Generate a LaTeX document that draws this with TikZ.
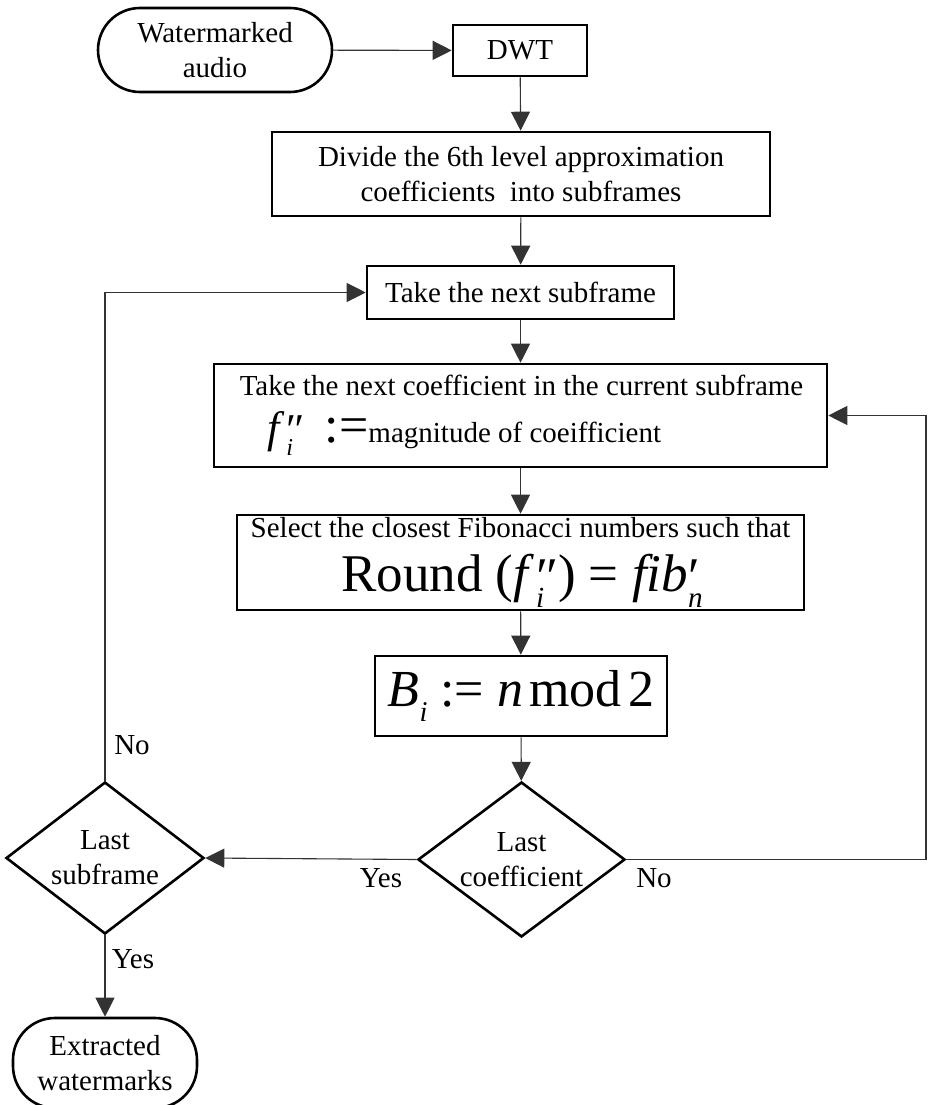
\documentclass[tikz,border=0pt]{standalone}
\usepackage{fontspec}
\setmainfont{Liberation Serif}
\usetikzlibrary{arrows.meta,shapes.geometric}
\newcommand\fsn{\fontsize{29}{35}\selectfont}
\newcommand\fsl{\fontsize{52}{56}\selectfont}
\newcommand\subsc[1]{\raisebox{-0.3em}{\scalebox{0.55}{\textit{#1}}}}
\newcommand\fii{\textit{f}\hspace{0.03em}\rlap{\subsc{i}}\raisebox{-0.05em}{″}}
\tikzset{
  box/.style={draw, line width=2.6pt, inner sep=0pt, font=\fsn, align=center},
  term/.style={box, rounded corners=42pt},
  dia/.style={diamond, draw, line width=2.6pt, inner sep=0pt},
  conn/.style={line width=1.1pt, draw=black!80, -{Triangle[length=19pt,width=19pt]}},
  lbl/.style={font=\fsn, inner sep=0pt, align=center},
}
\begin{document}
\begin{tikzpicture}[x=1pt,y=-1pt]
\useasboundingbox (0,0) rectangle (927,1105);
\node[term, minimum width=234pt, minimum height=84pt] (wa) at (215,50) {Watermarked\\audio};
\node[box, minimum width=134pt, minimum height=51pt] (dwt) at (520,50.5) {DWT};
\node[box, minimum width=498pt, minimum height=84pt] (div) at (521,174) {Divide the 6th level approximation\\coefficients\ \ into subframes};
\node[box, minimum width=307pt, minimum height=53pt] (sub) at (520.5,292.5) {Take the next subframe};
\node[box, minimum width=613pt, minimum height=103pt, align=left] (coef) at (520.5,415.5)
  {\hspace*{2pt}Take the next coefficient in the current subframe\\[12pt]
   \hspace*{30pt}{\fontsize{44}{44}\selectfont\fii}\hspace{20pt}{\fontsize{52}{52}\selectfont :=}magnitude of coeifficient};
\node[box, minimum width=567pt, minimum height=95pt] (sel) at (520.5,562.5)
  {Select the closest Fibonacci numbers such that\\[16pt]
   {\fontsize{53}{53}\selectfont Round (\fii) = \textit{fib}\rlap{\subsc{n}}\raisebox{-0.05em}{′}}};
\node[box, minimum width=292pt, minimum height=80pt] (bi) at (521,696)
  {\fsl\textit{B}\subsc{i}\hspace{0.25em}:=\hspace{0.25em}\textit{n}\hspace{0.12em}mod\hspace{0.12em}2};
\node[dia, minimum width=207pt, minimum height=155pt] (lc) at (521.5,859.5) {};
\node[lbl] (lct) at (lc) {Last\\coefficient};
\node[dia, minimum width=198pt, minimum height=152pt] (ls) at (105,858) {};
\node[lbl] (lst) at (ls) {Last\\subframe};
\node[term, minimum width=184pt, minimum height=90pt] (ew) at (105,1063) {Extracted\\watermarks};
\coordinate (rc) at (926,859.5);
\draw[conn] (wa) -- (dwt);
\draw[conn] (dwt) -- (div);
\draw[conn] (div) -- (sub);
\draw[conn] (sub) -- (coef);
\draw[conn] (coef) -- (sel);
\draw[conn] (sel) -- (bi);
\draw[conn] (bi) -- (lc);
\draw[conn] (lc.west) -- (ls.east);
\draw[conn] (lc.east) -- (rc) |- (coef.east);
\draw[conn] (ls.north) |- (sub.west);
\draw[conn] (ls.south) -- (ew.north);
\node[lbl] (no1) at (132,745) {No};
\node[lbl] (yes1) at (381,878) {Yes};
\node[lbl] (no2) at (654,878) {No};
\node[lbl] (yes2) at (133,959) {Yes};
\end{tikzpicture}
\end{document}
